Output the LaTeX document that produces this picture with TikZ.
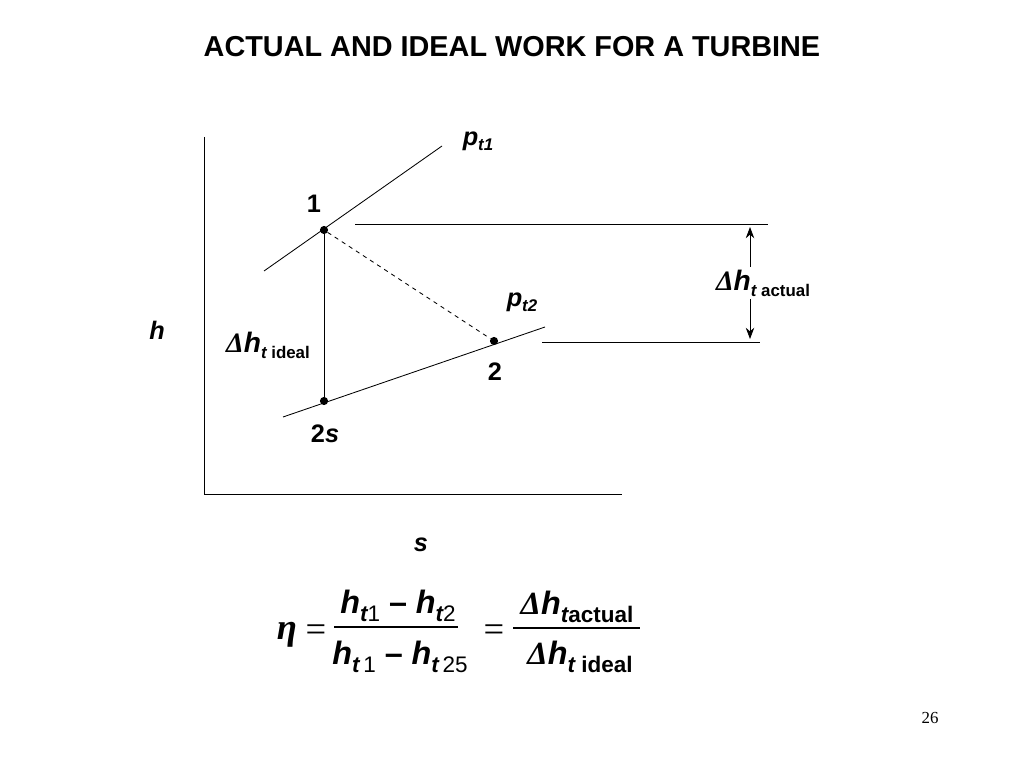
\documentclass[tikz,border=0pt]{standalone}
\usepackage{fontspec}
\setmainfont{Liberation Sans}
\newfontfamily\serfont{Liberation Serif}
\usetikzlibrary{arrows.meta}

\newcommand{\dlt}{{\serfont\itshape Δ}}
\newcommand{\bi}[1]{{\bfseries\itshape #1}}
\newcommand{\lsub}[1]{\raisebox{-0.4ex}{\fontsize{12}{14}\selectfont #1}}
\newcommand{\fsub}[1]{\raisebox{-0.45ex}{\fontsize{16}{18}\selectfont #1}}

\tikzset{
  lbl/.style={font=\fontsize{18}{21}\selectfont\bfseries, inner sep=1pt},
  dlbl/.style={font=\fontsize{20}{23}\selectfont\bfseries, inner sep=1pt},
  big/.style={font=\fontsize{23}{26}\selectfont\bfseries, inner sep=1pt},
  sym/.style={font=\fontsize{26}{29}\selectfont\serfont, inner sep=1pt},
  pt/.style={circle, fill, inner sep=0pt, minimum size=5.8pt},
  thin line/.style={line width=0.6pt}
}

\begin{document}
\begin{tikzpicture}[x=0.025cm, y=-0.025cm]

\useasboundingbox (0,0) rectangle (1024,768);

% title
\node[font=\fontsize{20.5}{24}\selectfont\bfseries] (title) at (512,47) {ACTUAL AND IDEAL WORK FOR A TURBINE};

% axes
\coordinate (o) at (204,494);
\draw[thin line] (204,137) -- (o) -- (622,494);
\node[lbl] (hax) at (157,330) {\bi{h}};
\node[lbl] (sax) at (421,545) {\bi{s}};

% pressure lines
\coordinate (pa) at (264,271);
\coordinate (pb) at (442,146);
\coordinate (qa) at (283,417);
\coordinate (qb) at (545,327);
\draw[thin line] (pa) -- (pb);
\draw[thin line] (qa) -- (qb);

% states
\node[pt] (n1) at (324,230) {};
\node[pt] (n2) at (494,341) {};
\node[pt] (n2s) at (324,401) {};
\draw[thin line] (n1) -- (n2s);
\draw[thin line, dashed] (n1) -- (n2);

\node[lbl] (l1) at (314,204) {1};
\node[lbl] (l2) at (495,372) {2};
\node[lbl] (l2s) at (325,434) {2\bi{s}};
\node[lbl] (lp1) at (478,141) {\bi{p}\lsub{\bi{t1}}};
\node[lbl] (lp2) at (522,302) {\bi{p}\lsub{\bi{t2}}};
\node[dlbl] (lid) at (268,345) {\dlt\bi{h}\lsub{\bi{t} ideal}};

% actual enthalpy drop
\coordinate (ha) at (355,224);
\coordinate (hb) at (768,224);
\coordinate (hc) at (542,342);
\coordinate (hd) at (760,342);
\draw[thin line] (ha) -- (hb);
\draw[thin line] (hc) -- (hd);
\coordinate (aa) at (750,227);
\coordinate (ab) at (750,339);
\draw[thin line, {Stealth[length=8pt,width=6pt]}-{Stealth[length=8pt,width=6pt]}] (aa) -- (ab);
\node[dlbl, fill=white, inner sep=2pt] (lac) at (763,283) {\dlt\bi{h}\lsub{\bi{t} actual}};

% efficiency
\node[sym, font=\fontsize{26}{29}\selectfont\serfont\bfseries\itshape] (eta) at (287,635) {η};
\node[sym] (eq1) at (316,633) {=};
\coordinate (fa) at (334,627);
\coordinate (fb) at (458,627);
\draw[line width=1.2pt] (fa) -- (fb);
\node[big] (num1) at (398,606) {\bi{h}\fsub{\bi{t}\mdseries1} -- \bi{h}\fsub{\bi{t}\mdseries2}};
\node[big] (den1) at (400,657) {\bi{h}\fsub{\bi{t}\mdseries\,1} -- \bi{h}\fsub{\bi{t}\mdseries\,25}};
\node[sym] (eq2) at (494,633) {=};
\coordinate (ga) at (513,628);
\coordinate (gb) at (640,628);
\draw[line width=1.2pt] (ga) -- (gb);
\node[big] (num2) at (577,607) {\dlt\bi{h}\fsub{\bi{t}actual}};
\node[big] (den2) at (580,657) {\dlt\bi{h}\fsub{\bi{t} ideal}};

% slide number
\node[font=\serfont\fontsize{12}{14}\selectfont] (pg) at (930,718) {26};

\end{tikzpicture}
\end{document}
